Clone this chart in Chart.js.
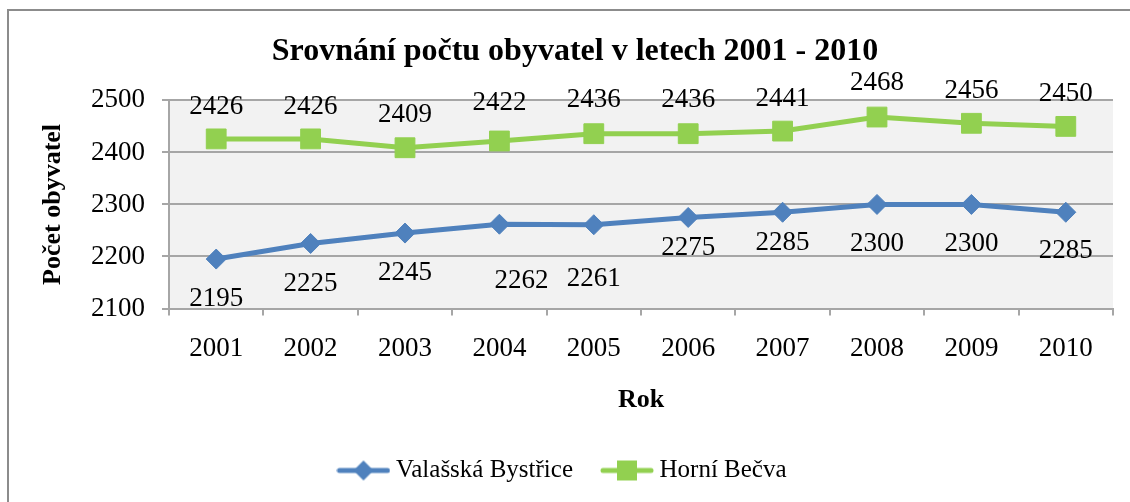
<!DOCTYPE html>
<html>
<head>
<meta charset="utf-8">
<script src="https://cdn.jsdelivr.net/npm/chart.js@4.4.0/dist/chart.umd.min.js"></script>
<style>
  html, body { margin: 0; padding: 0; background: #fff; }
  #frame { position: absolute; left: 7px; top: 9px; width: 1200px; height: 600px; border: 2px solid #8c8c8c; }
  #wrap { position: absolute; left: 0; top: 0; width: 1130px; height: 502px; }
</style>
</head>
<body>
<div id="frame"></div>
<div id="wrap"><canvas id="chart" width="1130" height="502"></canvas></div>
<script>
// chart data
const years = ['2001', '2002', '2003', '2004', '2005', '2006', '2007', '2008', '2009', '2010'];
const valasskaBystrice = [2195, 2225, 2245, 2262, 2261, 2275, 2285, 2300, 2300, 2285];
const horniBecva = [2426, 2426, 2409, 2422, 2436, 2436, 2441, 2468, 2456, 2450];
const yMin = 2100;
const yMax = 2500;
const yStep = 100;

const BLUE = '#4F81BD';
const GREEN = '#92D050';
const GRID = '#A6A6A6';
const SERIF = '"Liberation Serif", "Times New Roman", serif';

// label nudges relative to each point (Excel labels were moved by hand a bit)
const blueLabelDy = [38, 39, 38, 55, 52, 29, 29, 38, 38, 37];
const blueLabelDx = [0, 0, 0, 22, 0, 0, 0, 0, 0, 0];
const greenLabelDy = [-34, -34, -35, -40, -36, -36, -34, -36, -34, -34];

// legend icons: line with marker in the middle
function legendIcon(color, shape) {
  const c = document.createElement('canvas');
  c.width = 54; c.height = 22;
  const g = c.getContext('2d');
  g.strokeStyle = color;
  g.lineWidth = 5;
  g.lineCap = 'round';
  g.beginPath(); g.moveTo(3, 11); g.lineTo(51, 11); g.stroke();
  g.fillStyle = color;
  g.beginPath();
  if (shape === 'diamond') {
    g.moveTo(27, 1); g.lineTo(37, 11); g.lineTo(27, 21); g.lineTo(17, 11);
  } else {
    g.rect(17, 1, 20, 20);
  }
  g.closePath(); g.fill();
  return c;
}
const legendIcons = [legendIcon(BLUE, 'diamond'), legendIcon(GREEN, 'square')];

const plotBackground = {
  id: 'plotBackground',
  beforeDraw(chart) {
    const { ctx, chartArea: a } = chart;
    ctx.save();
    ctx.fillStyle = '#F2F2F2';
    ctx.fillRect(a.left, a.top, a.right - a.left, a.bottom - a.top);
    ctx.restore();
  }
};

// legend in the original sits a little left of centre
const legendShift = {
  id: 'legendShift',
  afterLayout(chart) {
    if (chart.legend) {
      chart.legend.left -= 10;
      chart.legend.right -= 10;
    }
  }
};

const pointLabels = {
  id: 'pointLabels',
  afterDatasetsDraw(chart) {
    const ctx = chart.ctx;
    ctx.save();
    ctx.font = '27px ' + SERIF;
    ctx.fillStyle = '#000';
    ctx.textAlign = 'center';
    ctx.textBaseline = 'alphabetic';
    chart.data.datasets.forEach((ds, i) => {
      const meta = chart.getDatasetMeta(i);
      meta.data.forEach((pt, j) => {
        const dx = ds.labelDx ? ds.labelDx[j] : 0;
        ctx.fillText(String(ds.data[j]), pt.x + dx, pt.y + ds.labelDy[j] + 9);
      });
    });
    ctx.restore();
  }
};

new Chart(document.getElementById('chart'), {
  type: 'line',
  data: {
    labels: years,
    datasets: [
      {
        label: 'Valašská Bystřice',
        data: valasskaBystrice,
        borderColor: BLUE,
        backgroundColor: BLUE,
        borderWidth: 5,
        pointStyle: 'rectRot',
        pointRadius: 10,
        pointBorderWidth: 1,
        pointBackgroundColor: BLUE,
        tension: 0,
        labelDy: blueLabelDy,
        labelDx: blueLabelDx
      },
      {
        label: 'Horní Bečva',
        data: horniBecva,
        borderColor: GREEN,
        backgroundColor: GREEN,
        borderWidth: 5,
        pointStyle: 'rect',
        pointRadius: 14,
        pointBorderWidth: 1,
        pointBackgroundColor: GREEN,
        tension: 0,
        labelDy: greenLabelDy
      }
    ]
  },
  options: {
    responsive: false,
    animation: false,
    layout: { padding: { left: 37, right: 17, top: 0, bottom: 9 } },
    plugins: {
      title: {
        display: true,
        text: 'Srovnání počtu obyvatel v letech 2001 - 2010',
        color: '#000',
        font: { family: SERIF, size: 32, weight: 'bold' },
        padding: { top: 33, bottom: 29 }
      },
      legend: {
        position: 'bottom',
        labels: {
          usePointStyle: true,
          pointStyleWidth: 40,
          boxHeight: 25,
          padding: 34,
          color: '#000',
          font: { family: SERIF, size: 25 },
          generateLabels(chart) {
            return chart.data.datasets.map((ds, i) => ({
              text: ds.label,
              pointStyle: legendIcons[i],
              fillStyle: ds.borderColor,
              strokeStyle: ds.borderColor,
              lineWidth: 0,
              fontColor: '#000',
              hidden: false,
              datasetIndex: i
            }));
          }
        }
      },
      tooltip: { enabled: false }
    },
    scales: {
      x: {
        offset: true,
        grid: { display: true, offset: true, drawOnChartArea: false, drawTicks: true, tickLength: 7, color: GRID, lineWidth: 2 },
        border: { display: true, color: GRID, width: 2 },
        ticks: { color: '#000', font: { family: SERIF, size: 27 }, padding: 17, maxRotation: 0 },
        title: { display: true, text: 'Rok', color: '#000', font: { family: SERIF, size: 26, weight: 'bold' }, padding: { top: 0, bottom: 8 } },
        afterFit(scale) { scale.height = 115.5; }
      },
      y: {
        min: yMin,
        max: yMax,
        grid: { color: GRID, lineWidth: 2, tickLength: 7 },
        border: { display: true, color: GRID, width: 2 },
        ticks: {
          stepSize: yStep,
          color: '#000',
          font: { family: SERIF, size: 27 },
          padding: 17,
          callback: (v) => String(v)
        },
        title: { display: true, text: 'Počet obyvatel', color: '#000', font: { family: SERIF, size: 26, weight: 'bold' }, padding: { top: 1, bottom: 0 } },
        afterFit(scale) { scale.width = 132; }
      }
    }
  },
  plugins: [plotBackground, legendShift, pointLabels]
});
</script>
</body>
</html>
